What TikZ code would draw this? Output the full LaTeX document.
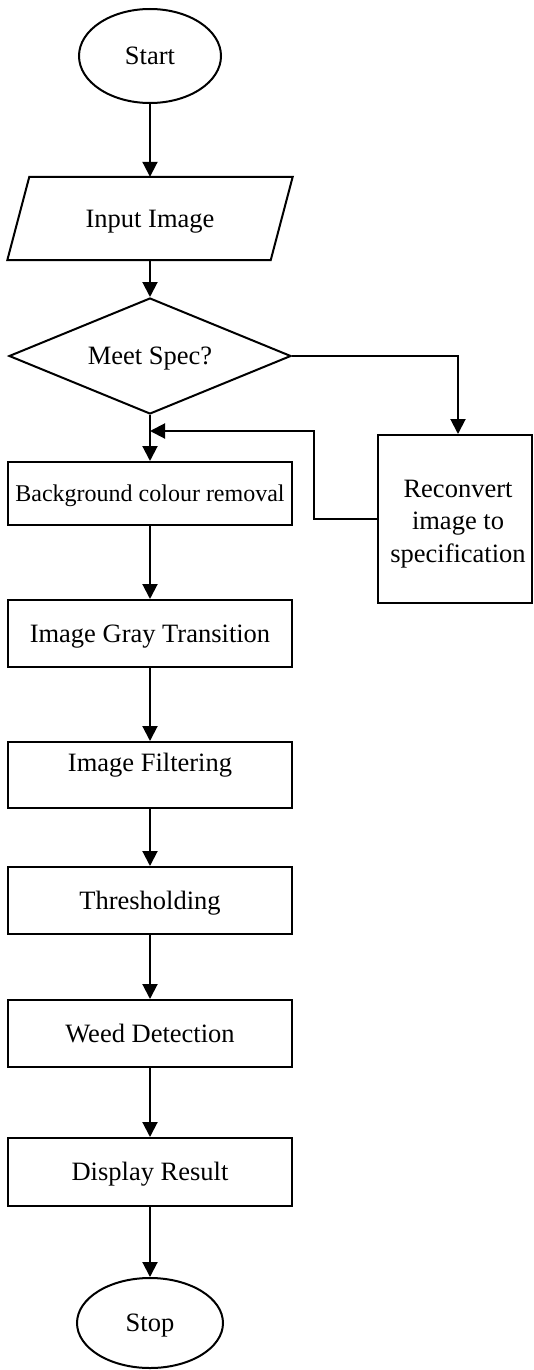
\documentclass[tikz,border=0pt]{standalone}
\usepackage{fontspec}
\setmainfont{Liberation Serif}
\usetikzlibrary{arrows.meta,shapes.geometric,calc}
\begin{document}
\begin{tikzpicture}[x=1pt,y=-1pt,
  every node/.style={font=\fontsize{26.5}{32.5}\selectfont},
  txt/.style={text height=17.5pt,text depth=0pt},
  box/.style={draw,line width=2pt,rectangle,minimum width=284pt,minimum height=66pt,inner sep=0pt,txt},
  term/.style={draw,line width=2pt,ellipse,inner sep=0pt,txt},
  arr/.style={line width=2pt,-{Triangle[length=15pt,width=15pt]}},
  ln/.style={line width=2pt}]
\useasboundingbox (0,0) rectangle (533,1370);
\node[term,minimum width=142pt,minimum height=94pt] (start) at (150,56) {Start};
\node[txt,minimum width=263pt,minimum height=83pt,inner sep=0pt] (inp) at (150,218.5) {Input Image};
\draw[ln] ([xshift=11pt]inp.north west) -- ([xshift=11pt]inp.north east) -- ([xshift=-11pt]inp.south east) -- ([xshift=-11pt]inp.south west) -- cycle;
\node[draw,line width=2pt,diamond,aspect=2.43,minimum width=282pt,minimum height=116pt,inner sep=0pt,txt] (dec) at (150,356) {Meet Spec?};
\node[box,minimum height=63pt,font=\fontsize{24}{28}\selectfont,text height=16pt] (bg) at (150,493.5) {Background colour removal};
\node[box,minimum height=67pt] (gray) at (150,633.5) {Image Gray Transition};
\node[box] (filt) at (150,775) {};
\node[txt] (filtxt) at (150,763) {Image Filtering};
\node[box,minimum height=67pt] (thr) at (150,900.5) {Thresholding};
\node[box,minimum height=67pt] (weed) at (150,1033.5) {Weed Detection};
\node[box,minimum height=68pt] (disp) at (150,1172) {Display Result};
\node[term,minimum width=146pt,minimum height=90pt] (stop) at (150,1323) {Stop};
\node[draw,line width=2pt,minimum width=154pt,minimum height=168pt,inner sep=0pt,
  label={[align=center,xshift=3pt,yshift=-5pt,font=\fontsize{26.5}{32.5}\selectfont]center:Reconvert\\image to\\specification}] (rec) at (455,519) {};
\coordinate (m) at (150,431);
\draw[arr] (start.south) -- (inp.north);
\draw[arr] (inp.south) -- (dec.north);
\draw[arr] (dec.south) -- (bg.north);
\draw[arr] (dec.east) -| ([xshift=3pt]rec.north);
\draw[arr] (rec.west) -- ++(-63pt,0) |- (m);
\draw[arr] (bg.south) -- (gray.north);
\draw[arr] (gray.south) -- (filt.north);
\draw[arr] (filt.south) -- (thr.north);
\draw[arr] (thr.south) -- (weed.north);
\draw[arr] (weed.south) -- (disp.north);
\draw[arr] (disp.south) -- (stop.north);
\end{tikzpicture}
\end{document}
